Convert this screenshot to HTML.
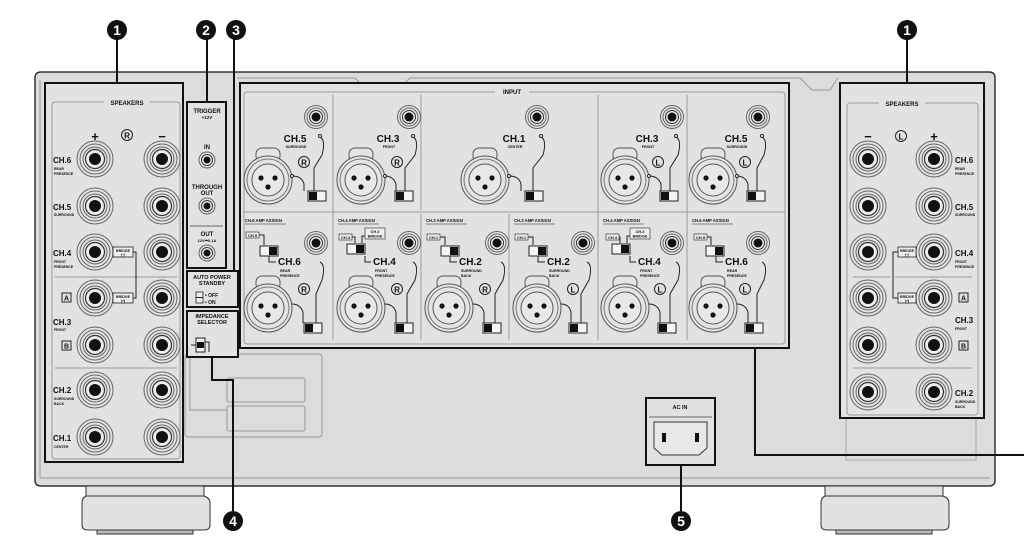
<!DOCTYPE html>
<html><head><meta charset="utf-8"><style>
html,body{margin:0;padding:0;background:#fff}
svg{display:block}
text{font-family:"Liberation Sans",sans-serif;font-weight:bold;fill:#111}
</style></head><body>
<svg width="1024" height="552" viewBox="0 0 1024 552" xmlns="http://www.w3.org/2000/svg">
<defs>
<g id="term"><circle r="18" fill="#e4e4e4" stroke="#666" stroke-width="1"/><circle r="15" fill="none" stroke="#666" stroke-width="1"/><circle r="12" fill="none" stroke="#666" stroke-width="1"/><circle r="9.5" fill="#eee" stroke="#333" stroke-width="1.2"/><circle r="6" fill="#111"/></g>
<g id="rca"><circle r="11.5" fill="#e4e4e4" stroke="#666"/><circle r="9" fill="none" stroke="#666"/><circle r="6.5" fill="#eee" stroke="#333"/><circle r="4.5" fill="#111"/></g>
<g id="mini"><circle r="8" fill="#e4e4e4" stroke="#666"/><circle r="5.5" fill="#eee" stroke="#333"/><circle r="3.5" fill="#111"/></g>
<g id="xlr"><rect x="-12" y="-32" width="24" height="14" rx="6" fill="#e4e4e4" stroke="#555"/><circle r="24" fill="#e4e4e4" stroke="#555"/><circle r="21" fill="none" stroke="#777"/><circle r="16" fill="#e8e8e8" stroke="#555"/><circle cx="-7" cy="-2" r="2.6" fill="#111"/><circle cx="7" cy="-2" r="2.6" fill="#111"/><circle cx="0" cy="7" r="2.6" fill="#111"/></g>
<g id="sw"><rect x="0" y="0" width="18" height="10" fill="#f4f4f4" stroke="#222"/><rect x="1" y="1" width="8" height="8" fill="#111"/></g>
<g id="swr"><rect x="0" y="0" width="18" height="10" fill="#f4f4f4" stroke="#222"/><rect x="9" y="1" width="8" height="8" fill="#111"/></g>
</defs>

<!-- chassis -->
<path d="M41 72 H989 Q995 72 995 78 V480 Q995 486 989 486 H41 Q35 486 35 480 V78 Q35 72 41 72 Z" fill="#dcdcdc" stroke="#333" stroke-width="1.5"/>
<path d="M40 80 V478 H990" fill="none" stroke="#999" stroke-width="1"/>
<path d="M237 78 H355 L365 88 H400 L410 78 H790 M790 78 H800 L812 90 H830 L838 78" fill="none" stroke="#999"/>

<!-- feet -->
<rect x="86" y="486" width="118" height="10" fill="#e2e2e2" stroke="#333"/>
<path d="M86 496 H204 Q210 498 210 503 V525 Q210 530 204 530 H88 Q82 530 82 525 V503 Q82 498 86 496Z" fill="#e2e2e2" stroke="#333"/>
<rect x="97" y="530" width="96" height="4" fill="#bbb" stroke="#333"/>
<rect x="825" y="486" width="118" height="10" fill="#e2e2e2" stroke="#333"/>
<path d="M825 496 H943 Q949 498 949 503 V525 Q949 530 943 530 H827 Q821 530 821 525 V503 Q821 498 825 496Z" fill="#e2e2e2" stroke="#333"/>
<rect x="836" y="530" width="96" height="4" fill="#bbb" stroke="#333"/>

<!-- gray lines box -->
<rect x="185" y="354" width="137" height="83" rx="3" fill="none" stroke="#999"/>
<rect x="227" y="378" width="78" height="24" rx="2" fill="none" stroke="#999"/>
<rect x="227" y="406" width="78" height="25" rx="2" fill="none" stroke="#999"/>
<path d="M190 354 V410 H227" fill="none" stroke="#999"/>
<rect x="846" y="400" width="130" height="60" fill="none" stroke="#aaa"/>

<!-- LEFT SPEAKERS -->
<rect x="45" y="83" width="138" height="379" fill="#e2e2e2" stroke="#111" stroke-width="2"/>
<rect x="52" y="102" width="128" height="357" rx="3" fill="none" stroke="#999"/>
<rect x="104" y="97" width="46" height="9" fill="#e2e2e2"/>
<text x="127" y="105" font-size="6" text-anchor="middle">SPEAKERS</text>
<text x="95" y="141" font-size="13" text-anchor="middle">+</text>
<text x="162" y="141" font-size="13" text-anchor="middle">−</text>
<circle cx="127" cy="135" r="5.5" fill="none" stroke="#222"/><text x="127" y="138.5" font-size="8" text-anchor="middle">R</text>
<line x1="55" y1="277" x2="177" y2="277" stroke="#999"/>
<line x1="55" y1="368" x2="177" y2="368" stroke="#999"/>
<use href="#term" x="95" y="159"/><use href="#term" x="162" y="159"/>
<use href="#term" x="95" y="206"/><use href="#term" x="162" y="206"/>
<use href="#term" x="95" y="252"/><use href="#term" x="162" y="252"/>
<use href="#term" x="95" y="298"/><use href="#term" x="162" y="298"/>
<use href="#term" x="95" y="345"/><use href="#term" x="162" y="345"/>
<use href="#term" x="95" y="390"/><use href="#term" x="162" y="390"/>
<use href="#term" x="95" y="437"/><use href="#term" x="162" y="437"/>
<text x="53" y="163" font-size="8">CH.6</text><text x="54" y="170" font-size="3.5">REAR</text><text x="54" y="175" font-size="3.5">PRESENCE</text>
<text x="53" y="210" font-size="8">CH.5</text><text x="54" y="216" font-size="3.5">SURROUND</text>
<text x="53" y="256" font-size="8">CH.4</text><text x="54" y="263" font-size="3.5">FRONT</text><text x="54" y="268" font-size="3.5">PRESENCE</text>
<rect x="62" y="293" width="9" height="9" fill="none" stroke="#222"/><text x="66.5" y="300.5" font-size="7" text-anchor="middle">A</text>
<text x="53" y="325" font-size="8">CH.3</text><text x="54" y="331" font-size="3.5">FRONT</text>
<rect x="62" y="341" width="9" height="9" fill="none" stroke="#222"/><text x="66.5" y="348.5" font-size="7" text-anchor="middle">B</text>
<text x="53" y="393" font-size="8">CH.2</text><text x="54" y="400" font-size="3.5">SURROUND</text><text x="54" y="405" font-size="3.5">BACK</text>
<text x="53" y="441" font-size="8">CH.1</text><text x="54" y="448" font-size="3.5">CENTER</text>
<rect x="113" y="247" width="20" height="10" fill="#eee" stroke="#222" stroke-width=".8"/><text x="123" y="252" font-size="3.6" text-anchor="middle">BRIDGE</text><text x="123" y="256" font-size="3.6" text-anchor="middle">(−)</text>
<rect x="113" y="293" width="20" height="10" fill="#eee" stroke="#222" stroke-width=".8"/><text x="123" y="298" font-size="3.6" text-anchor="middle">BRIDGE</text><text x="123" y="302" font-size="3.6" text-anchor="middle">(+)</text>
<path d="M133 252 H136 V298 H133" fill="none" stroke="#222"/>

<!-- TRIGGER -->
<rect x="187" y="102" width="39" height="166" fill="#e2e2e2" stroke="#111" stroke-width="2"/>
<text x="207" y="113" font-size="6" text-anchor="middle">TRIGGER</text><text x="207" y="119" font-size="4.5" text-anchor="middle">+12V</text>
<text x="207" y="149" font-size="6" text-anchor="middle">IN</text><use href="#mini" x="207" y="160"/>
<text x="207" y="189" font-size="6" text-anchor="middle">THROUGH</text><text x="207" y="195" font-size="6" text-anchor="middle">OUT</text><use href="#mini" x="207" y="206"/>
<line x1="190" y1="226" x2="223" y2="226" stroke="#666"/>
<text x="207" y="236" font-size="6" text-anchor="middle">OUT</text><text x="207" y="242" font-size="4" text-anchor="middle">12V⎓0.1A</text><use href="#mini" x="207" y="253"/>
<!-- AUTO POWER -->
<rect x="187" y="271" width="51" height="36" fill="#e2e2e2" stroke="#111" stroke-width="2"/>
<text x="212" y="279" font-size="5.5" text-anchor="middle">AUTO POWER</text><text x="212" y="285" font-size="5.5" text-anchor="middle">STANDBY</text>
<rect x="196" y="292" width="7" height="11" fill="#eee" stroke="#222" stroke-width=".8"/><line x1="196" y1="297.5" x2="203" y2="297.5" stroke="#222"/>
<text x="205" y="297" font-size="5">• OFF</text><text x="205" y="304" font-size="5">• ON</text>
<!-- IMPEDANCE -->
<rect x="187" y="311" width="51" height="46" fill="#e2e2e2" stroke="#111" stroke-width="2"/>
<text x="212" y="318" font-size="5.5" text-anchor="middle">IMPEDANCE</text><text x="212" y="324" font-size="5.5" text-anchor="middle">SELECTOR</text>
<rect x="196" y="338" width="9" height="14" fill="#eee" stroke="#222"/><rect x="197" y="342" width="7" height="6" fill="#111"/>
<path d="M191 345 H196 M205 342 H209 V352" fill="none" stroke="#222"/>

<!-- INPUT PANEL -->
<rect x="240" y="83" width="549" height="265" fill="#e2e2e2" stroke="#111" stroke-width="2"/>
<rect x="244" y="92" width="541" height="252" rx="3" fill="none" stroke="#999"/>
<rect x="495" y="88" width="34" height="8" fill="#e2e2e2"/>
<text x="512" y="94" font-size="6" text-anchor="middle">INPUT</text>
<line x1="244" y1="212" x2="785" y2="212" stroke="#999"/>
<g stroke="#999"><line x1="333" y1="95" x2="333" y2="340"/><line x1="421" y1="95" x2="421" y2="210"/><line x1="598" y1="95" x2="598" y2="340"/><line x1="687" y1="95" x2="687" y2="340"/><line x1="509" y1="214" x2="509" y2="340"/><line x1="421" y1="214" x2="421" y2="340"/></g>

<!-- top cells -->
<g id="tc1" transform="translate(240,0)">
<use href="#xlr" x="28" y="180"/><use href="#rca" x="76" y="117"/><use href="#sw" x="68" y="191"/>
<path d="M52 176 Q62 176 64 184 V191 M80 137 Q86 140 82 155 L74 168 V191" fill="none" stroke="#222"/>
<circle cx="80" cy="136" r="1.5" fill="#fff" stroke="#222"/><circle cx="52" cy="176" r="1.5" fill="#fff" stroke="#222"/>
<circle cx="64" cy="162" r="5.5" fill="none" stroke="#222"/><text x="64" y="165.5" font-size="8" text-anchor="middle">R</text>
<text x="55" y="142" font-size="10" text-anchor="middle">CH.5</text><text x="56" y="148" font-size="3.6" text-anchor="middle">SURROUND</text>
</g>
<g transform="translate(333,0)">
<use href="#xlr" x="28" y="180"/><use href="#rca" x="76" y="117"/><use href="#sw" x="62" y="191"/>
<path d="M52 176 Q60 176 63 184 V191 M80 137 Q86 140 82 155 L72 168 V191" fill="none" stroke="#222"/>
<circle cx="80" cy="136" r="1.5" fill="#fff" stroke="#222"/><circle cx="52" cy="176" r="1.5" fill="#fff" stroke="#222"/>
<circle cx="64" cy="162" r="5.5" fill="none" stroke="#222"/><text x="64" y="165.5" font-size="8" text-anchor="middle">R</text>
<text x="55" y="142" font-size="10" text-anchor="middle">CH.3</text><text x="56" y="148" font-size="3.6" text-anchor="middle">FRONT</text>
</g>
<g transform="translate(457,0)">
<use href="#xlr" x="28" y="180"/><use href="#rca" x="80" y="117"/><use href="#sw" x="68" y="191"/>
<path d="M52 176 Q62 176 64 184 V191 M84 137 Q90 140 86 155 L76 168 V191" fill="none" stroke="#222"/>
<circle cx="84" cy="136" r="1.5" fill="#fff" stroke="#222"/><circle cx="52" cy="176" r="1.5" fill="#fff" stroke="#222"/>
<text x="57" y="142" font-size="10" text-anchor="middle">CH.1</text><text x="58" y="148" font-size="3.6" text-anchor="middle">CENTER</text>
</g>
<g transform="translate(598,0)">
<use href="#xlr" x="27" y="180"/><use href="#rca" x="74" y="117"/><use href="#sw" x="62" y="191"/>
<path d="M51 176 Q60 176 63 184 V191 M78 137 Q84 140 80 155 L72 168 V191" fill="none" stroke="#222"/>
<circle cx="78" cy="136" r="1.5" fill="#fff" stroke="#222"/><circle cx="51" cy="176" r="1.5" fill="#fff" stroke="#222"/>
<circle cx="60" cy="162" r="5.5" fill="none" stroke="#222"/><text x="60" y="165.5" font-size="8" text-anchor="middle">L</text>
<text x="49" y="142" font-size="10" text-anchor="middle">CH.3</text><text x="50" y="148" font-size="3.6" text-anchor="middle">FRONT</text>
</g>
<g transform="translate(687,0)">
<use href="#xlr" x="26" y="180"/><use href="#rca" x="71" y="117"/><use href="#sw" x="60" y="191"/>
<path d="M50 176 Q58 176 61 184 V191 M75 137 Q81 140 77 155 L70 168 V191" fill="none" stroke="#222"/>
<circle cx="75" cy="136" r="1.5" fill="#fff" stroke="#222"/><circle cx="50" cy="176" r="1.5" fill="#fff" stroke="#222"/>
<circle cx="58" cy="162" r="5.5" fill="none" stroke="#222"/><text x="58" y="165.5" font-size="8" text-anchor="middle">L</text>
<text x="49" y="142" font-size="10" text-anchor="middle">CH.5</text><text x="50" y="148" font-size="3.6" text-anchor="middle">SURROUND</text>
</g>

<!-- bottom cells -->
<g transform="translate(240,0)">
<text x="5" y="222" font-size="4.2">CH.6 AMP ASSIGN</text><line x1="5" y1="224" x2="46" y2="224" stroke="#222" stroke-width=".6"/>
<rect x="6" y="232" width="13" height="6" fill="#eee" stroke="#222" stroke-width=".6"/><text x="12.5" y="237" font-size="4" text-anchor="middle">CH.5</text>
<path d="M19 235 H24 V245 M29 256 V262 H36" fill="none" stroke="#222"/>
<use href="#swr" x="20" y="246"/>
<text x="38" y="265" font-size="10">CH.6</text><text x="40" y="272" font-size="3.6">REAR</text><text x="40" y="277" font-size="3.6">PRESENCE</text>
<circle cx="64" cy="289" r="5.5" fill="none" stroke="#222"/><text x="64" y="292.5" font-size="8" text-anchor="middle">R</text>
<use href="#xlr" x="28" y="308"/><use href="#rca" x="76" y="243"/><use href="#sw" x="64" y="323"/>
<path d="M52 304 Q60 304 63 312 V323 M80 262 Q86 265 82 280 L76 294 V323" fill="none" stroke="#222"/>
</g>
<g transform="translate(333,0)">
<text x="5" y="222" font-size="4.2">CH.4 AMP ASSIGN</text><line x1="5" y1="224" x2="46" y2="224" stroke="#222" stroke-width=".6"/>
<rect x="6" y="234" width="13" height="6" fill="#eee" stroke="#222" stroke-width=".6"/><text x="12.5" y="239" font-size="4" text-anchor="middle">CH.3</text>
<rect x="32" y="228" width="20" height="11" fill="#eee" stroke="#222" stroke-width=".6"/><text x="42" y="233" font-size="3.8" text-anchor="middle">CH.3</text><text x="42" y="237.5" font-size="3.8" text-anchor="middle">BRIDGE</text>
<path d="M19 237 H22 V243 M32 236 H29 V243 M32 256 V262 H38" fill="none" stroke="#222"/>
<use href="#swr" x="14" y="244"/>
<text x="40" y="265" font-size="10">CH.4</text><text x="42" y="272" font-size="3.6">FRONT</text><text x="42" y="277" font-size="3.6">PRESENCE</text>
<circle cx="64" cy="289" r="5.5" fill="none" stroke="#222"/><text x="64" y="292.5" font-size="8" text-anchor="middle">R</text>
<use href="#xlr" x="28" y="308"/><use href="#rca" x="76" y="243"/><use href="#sw" x="62" y="323"/>
<path d="M52 304 Q60 304 63 312 V323 M80 262 Q86 265 82 280 L74 294 V323" fill="none" stroke="#222"/>
</g>
<g transform="translate(421,0)">
<text x="5" y="222" font-size="4.2">CH.2 AMP ASSIGN</text><line x1="5" y1="224" x2="46" y2="224" stroke="#222" stroke-width=".6"/>
<rect x="6" y="234" width="13" height="6" fill="#eee" stroke="#222" stroke-width=".6"/><text x="12.5" y="239" font-size="4" text-anchor="middle">CH.1</text>
<path d="M19 237 H24 V245 M29 256 V262 H36" fill="none" stroke="#222"/>
<use href="#swr" x="20" y="246"/>
<text x="38" y="265" font-size="10">CH.2</text><text x="40" y="272" font-size="3.6">SURROUND</text><text x="40" y="277" font-size="3.6">BACK</text>
<circle cx="64" cy="289" r="5.5" fill="none" stroke="#222"/><text x="64" y="292.5" font-size="8" text-anchor="middle">R</text>
<use href="#xlr" x="28" y="308"/><use href="#rca" x="76" y="243"/><use href="#sw" x="62" y="323"/>
<path d="M52 304 Q60 304 63 312 V323 M80 262 Q86 265 82 280 L74 294 V323" fill="none" stroke="#222"/>
</g>
<g transform="translate(509,0)">
<text x="5" y="222" font-size="4.2">CH.2 AMP ASSIGN</text><line x1="5" y1="224" x2="46" y2="224" stroke="#222" stroke-width=".6"/>
<rect x="6" y="234" width="13" height="6" fill="#eee" stroke="#222" stroke-width=".6"/><text x="12.5" y="239" font-size="4" text-anchor="middle">CH.1</text>
<path d="M19 237 H24 V245 M29 256 V262 H36" fill="none" stroke="#222"/>
<use href="#swr" x="20" y="246"/>
<text x="38" y="265" font-size="10">CH.2</text><text x="40" y="272" font-size="3.6">SURROUND</text><text x="40" y="277" font-size="3.6">BACK</text>
<circle cx="64" cy="289" r="5.5" fill="none" stroke="#222"/><text x="64" y="292.5" font-size="8" text-anchor="middle">L</text>
<use href="#xlr" x="28" y="308"/><use href="#rca" x="74" y="243"/><use href="#sw" x="60" y="323"/>
<path d="M52 304 Q60 304 62 312 V323 M78 262 Q84 265 80 280 L72 294 V323" fill="none" stroke="#222"/>
</g>
<g transform="translate(598,0)">
<text x="5" y="222" font-size="4.2">CH.4 AMP ASSIGN</text><line x1="5" y1="224" x2="46" y2="224" stroke="#222" stroke-width=".6"/>
<rect x="8" y="234" width="13" height="6" fill="#eee" stroke="#222" stroke-width=".6"/><text x="14.5" y="239" font-size="4" text-anchor="middle">CH.3</text>
<rect x="32" y="228" width="20" height="11" fill="#eee" stroke="#222" stroke-width=".6"/><text x="42" y="233" font-size="3.8" text-anchor="middle">CH.3</text><text x="42" y="237.5" font-size="3.8" text-anchor="middle">BRIDGE</text>
<path d="M21 237 H22 V243 M32 236 H29 V243 M32 256 V262 H38" fill="none" stroke="#222"/>
<use href="#swr" x="14" y="244"/>
<text x="40" y="265" font-size="10">CH.4</text><text x="42" y="272" font-size="3.6">FRONT</text><text x="42" y="277" font-size="3.6">PRESENCE</text>
<circle cx="62" cy="289" r="5.5" fill="none" stroke="#222"/><text x="62" y="292.5" font-size="8" text-anchor="middle">L</text>
<use href="#xlr" x="27" y="308"/><use href="#rca" x="74" y="243"/><use href="#sw" x="60" y="323"/>
<path d="M51 304 Q59 304 62 312 V323 M78 262 Q84 265 80 280 L72 294 V323" fill="none" stroke="#222"/>
</g>
<g transform="translate(687,0)">
<text x="5" y="222" font-size="4.2">CH.6 AMP ASSIGN</text><line x1="5" y1="224" x2="46" y2="224" stroke="#222" stroke-width=".6"/>
<rect x="7" y="234" width="13" height="6" fill="#eee" stroke="#222" stroke-width=".6"/><text x="13.5" y="239" font-size="4" text-anchor="middle">CH.5</text>
<path d="M20 237 H24 V245 M29 256 V262 H36" fill="none" stroke="#222"/>
<use href="#swr" x="19" y="246"/>
<text x="38" y="265" font-size="10">CH.6</text><text x="40" y="272" font-size="3.6">REAR</text><text x="40" y="277" font-size="3.6">PRESENCE</text>
<circle cx="58" cy="289" r="5.5" fill="none" stroke="#222"/><text x="58" y="292.5" font-size="8" text-anchor="middle">L</text>
<use href="#xlr" x="26" y="308"/><use href="#rca" x="71" y="243"/><use href="#sw" x="58" y="323"/>
<path d="M50 304 Q58 304 61 312 V323 M75 262 Q81 265 77 280 L70 294 V323" fill="none" stroke="#222"/>
</g>

<!-- RIGHT SPEAKERS -->
<rect x="840" y="83" width="144" height="335" fill="#e2e2e2" stroke="#111" stroke-width="2"/>
<rect x="847" y="103" width="131" height="312" rx="3" fill="none" stroke="#999"/>
<rect x="879" y="98" width="46" height="9" fill="#e2e2e2"/>
<text x="902" y="106" font-size="6" text-anchor="middle">SPEAKERS</text>
<text x="868" y="141" font-size="13" text-anchor="middle">−</text>
<text x="934" y="141" font-size="13" text-anchor="middle">+</text>
<circle cx="901" cy="136" r="5.5" fill="none" stroke="#222"/><text x="901" y="139.5" font-size="8" text-anchor="middle">L</text>
<line x1="853" y1="277" x2="890" y2="277" stroke="#999"/><line x1="895" y1="277" x2="972" y2="277" stroke="#999"/>
<line x1="853" y1="368" x2="972" y2="368" stroke="#999"/>
<use href="#term" x="868" y="159"/><use href="#term" x="934" y="159"/>
<use href="#term" x="868" y="206"/><use href="#term" x="934" y="206"/>
<use href="#term" x="868" y="252"/><use href="#term" x="934" y="252"/>
<use href="#term" x="868" y="298"/><use href="#term" x="934" y="298"/>
<use href="#term" x="868" y="345"/><use href="#term" x="934" y="345"/>
<use href="#term" x="868" y="392"/><use href="#term" x="934" y="392"/>
<text x="955" y="163" font-size="8">CH.6</text><text x="955" y="170" font-size="3.5">REAR</text><text x="955" y="175" font-size="3.5">PRESENCE</text>
<text x="955" y="210" font-size="8">CH.5</text><text x="955" y="216" font-size="3.5">SURROUND</text>
<text x="955" y="256" font-size="8">CH.4</text><text x="955" y="263" font-size="3.5">FRONT</text><text x="955" y="268" font-size="3.5">PRESENCE</text>
<rect x="959" y="293" width="9" height="9" fill="none" stroke="#222"/><text x="963.5" y="300.5" font-size="7" text-anchor="middle">A</text>
<text x="955" y="323" font-size="8">CH.3</text><text x="955" y="330" font-size="3.5">FRONT</text>
<rect x="959" y="341" width="9" height="9" fill="none" stroke="#222"/><text x="963.5" y="348.5" font-size="7" text-anchor="middle">B</text>
<text x="955" y="396" font-size="8">CH.2</text><text x="955" y="403" font-size="3.5">SURROUND</text><text x="955" y="408" font-size="3.5">BACK</text>
<rect x="898" y="247" width="18" height="10" fill="#eee" stroke="#222" stroke-width=".8"/><text x="907" y="252" font-size="3.6" text-anchor="middle">BRIDGE</text><text x="907" y="256" font-size="3.6" text-anchor="middle">(−)</text>
<rect x="898" y="293" width="18" height="10" fill="#eee" stroke="#222" stroke-width=".8"/><text x="907" y="298" font-size="3.6" text-anchor="middle">BRIDGE</text><text x="907" y="302" font-size="3.6" text-anchor="middle">(+)</text>
<path d="M898 252 H893 V298 H898" fill="none" stroke="#222"/>

<!-- AC IN -->
<rect x="646" y="398" width="69" height="67" fill="#e2e2e2" stroke="#111" stroke-width="2"/>
<text x="680" y="409" font-size="5.5" text-anchor="middle">AC IN</text>
<line x1="649" y1="417" x2="712" y2="417" stroke="#666"/>
<path d="M654 422 H707 V448 L699 455 H662 L654 448 Z" fill="#e8e8e8" stroke="#333"/>
<rect x="662" y="433" width="4" height="9" fill="#111"/><rect x="695" y="433" width="4" height="9" fill="#111"/>

<!-- leader lines -->
<g stroke="#111" stroke-width="2" fill="none">
<line x1="117" y1="38" x2="117" y2="83"/>
<line x1="907" y1="38" x2="907" y2="83"/>
<line x1="207" y1="38" x2="207" y2="102"/>
<line x1="234" y1="38" x2="234" y2="271"/>
<path d="M212 357 V380 H233 V512"/>
<line x1="681" y1="465" x2="681" y2="512"/>
<path d="M755 348 V455 H1024"/>
</g>
<g font-size="14" >
<circle cx="117" cy="30" r="10" fill="#111"/><text x="117" y="35" text-anchor="middle" style="fill:#fff">1</text>
<circle cx="907" cy="30" r="10" fill="#111"/><text x="907" y="35" text-anchor="middle" style="fill:#fff">1</text>
<circle cx="206" cy="30" r="10" fill="#111"/><text x="206" y="35" text-anchor="middle" style="fill:#fff">2</text>
<circle cx="236" cy="30" r="10" fill="#111"/><text x="236" y="35" text-anchor="middle" style="fill:#fff">3</text>
<circle cx="233" cy="521" r="10" fill="#111"/><text x="233" y="526" text-anchor="middle" style="fill:#fff">4</text>
<circle cx="681" cy="521" r="10" fill="#111"/><text x="681" y="526" text-anchor="middle" style="fill:#fff">5</text>
</g>
</svg>
</body></html>
